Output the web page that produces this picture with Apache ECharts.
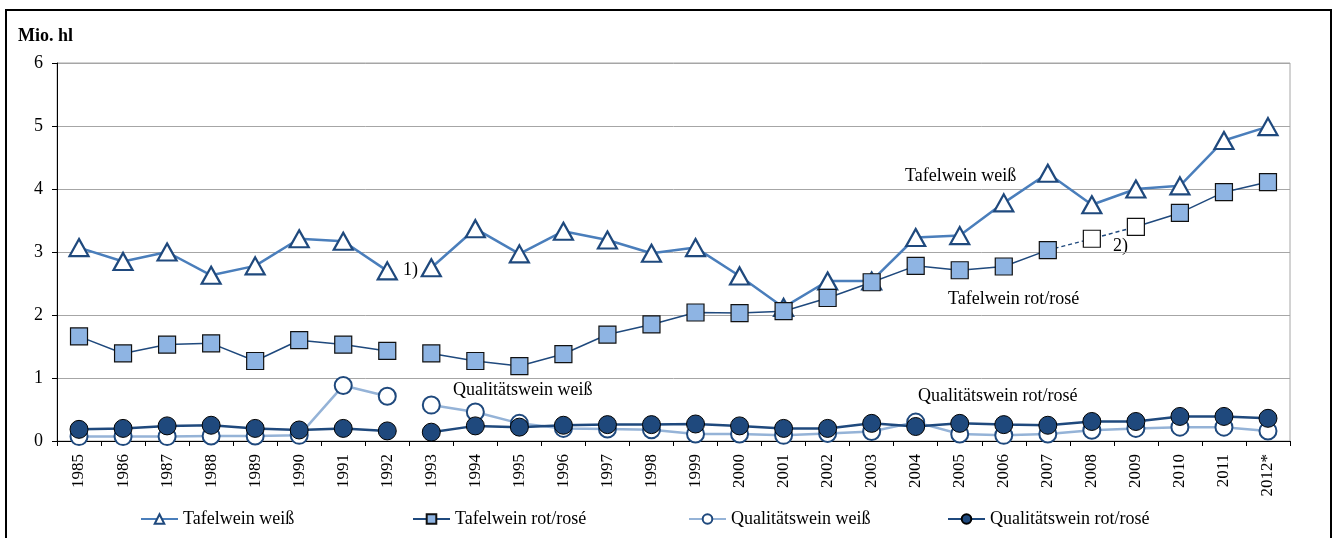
<!DOCTYPE html>
<html><head><meta charset="utf-8">
<script src="https://cdn.jsdelivr.net/npm/echarts@6/dist/echarts.min.js"></script>
<style>html,body{margin:0;padding:0;background:#fff}#c{width:1333px;height:538px}</style>
</head><body><div id="c"></div>
<script>
const years = ['1985','1986','1987','1988','1989','1990','1991','1992','1993','1994','1995','1996','1997','1998','1999','2000','2001','2002','2003','2004','2005','2006','2007','2008','2009','2010','2011','2012*'];
const yMin = 0, yMax = 6, yStep = 1;
const tafelWeiss = [3.07,2.85,3.00,2.63,2.78,3.21,3.17,2.70, 2.75,3.37,2.97,3.33,3.19,2.98,3.07,2.62,2.12,2.54,2.54,3.23,3.26,3.78,4.25,3.75,4.00,4.05,4.77,4.99];
const tafelRot = [1.66,1.39,1.53,1.55,1.27,1.60,1.53,1.43, 1.39,1.27,1.19,1.38,1.69,1.85,2.04,2.03,2.06,2.27,2.52,2.78,2.71,2.77,3.03,3.21,3.40,3.62,3.95,4.11];
const qualWeiss = [0.07,0.07,0.07,0.08,0.08,0.09,0.88,0.71, 0.57,0.46,0.28,0.20,0.19,0.18,0.11,0.11,0.09,0.12,0.15,0.30,0.11,0.09,0.11,0.17,0.20,0.22,0.22,0.16];
const qualRot = [0.185,0.20,0.24,0.25,0.20,0.175,0.20,0.16, 0.14,0.24,0.22,0.25,0.26,0.26,0.27,0.24,0.20,0.20,0.28,0.23,0.28,0.26,0.25,0.31,0.31,0.39,0.39,0.36];
const names = ['Tafelwein weiß','Tafelwein rot/rosé','Qualitätswein weiß','Qualitätswein rot/rosé'];
const breakAfter = 7;          // gap between 1992 and 1993
const estimatedIdx = [23, 24]; // 2008, 2009 (open squares, dashed)

const FONT = '"Liberation Serif","Times New Roman",serif';
function seg(arr, from, to, fn) {
  return arr.map((v, i) => {
    if (i < from || i > to) return null;
    return fn ? fn(v, i) : v;
  });
}

const styles = {
  tw: {symbol:'triangle', symbolSize:[19,17], lineStyle:{color:'#4A7EBB', width:2.5},
       itemStyle:{color:'#fff', borderColor:'#1F497D', borderWidth:2.2}},
  tr: {symbol:'rect', symbolSize:17, lineStyle:{color:'#1F497D', width:1.5},
       itemStyle:{color:'#8EB4E3', borderColor:'#111', borderWidth:1.2}},
  qw: {symbol:'circle', symbolSize:17, lineStyle:{color:'#95B3D7', width:2.5},
       itemStyle:{color:'#fff', borderColor:'#1F497D', borderWidth:2}},
  qr: {symbol:'circle', symbolSize:18, lineStyle:{color:'#1F497D', width:2.5},
       itemStyle:{color:'#1F497D', borderColor:'#000', borderWidth:1}}
};
function mk(name, st, data, extra) {
  return Object.assign({type:'line', name, data, symbol:st.symbol, symbolSize:st.symbolSize,
    showSymbol:true, showAllSymbol:true, connectNulls:false, animation:false,
    lineStyle:st.lineStyle, itemStyle:st.itemStyle, emphasis:{disabled:true}}, extra||{});
}
const N = years.length - 1;
const whiteSq = (v) => ({value:v, itemStyle:{color:'#fff', borderColor:'#111', borderWidth:1.2}});
const series = [
  mk(names[0], styles.tw, seg(tafelWeiss, 0, breakAfter)),
  mk(names[0], styles.tw, seg(tafelWeiss, breakAfter+1, N)),
  mk(names[1], styles.tr, seg(tafelRot, 0, breakAfter)),
  mk(names[1], styles.tr, seg(tafelRot, breakAfter+1, estimatedIdx[0]-1)),
  mk(names[1], styles.tr, seg(tafelRot, estimatedIdx[0]-1, estimatedIdx[1], (v,i) =>
      i === estimatedIdx[0] ? whiteSq(v) : {value:v, symbol:'none'}),
      {lineStyle:{color:'#1F497D', width:1.5, type:[4,3]}}),
  mk(names[1], styles.tr, seg(tafelRot, estimatedIdx[1], N, (v,i) => i === estimatedIdx[1] ? whiteSq(v) : v)),
  mk(names[2], styles.qw, seg(qualWeiss, 0, breakAfter)),
  mk(names[2], styles.qw, seg(qualWeiss, breakAfter+1, N)),
  mk(names[3], styles.qr, seg(qualRot, 0, breakAfter)),
  mk(names[3], styles.qr, seg(qualRot, breakAfter+1, N))
];

const legendLefts = [140, 412, 688, 947];
const legends = names.map((n, i) => ({
  data:[n], left:legendLefts[i], top:510, padding:0, itemWidth:37, itemHeight:12, selectedMode:false,
  textStyle:{fontFamily:FONT, fontSize:18, color:'#000'}
}));

function txt(text, x, y, size, bold) {
  return {type:'text', silent:true, style:{text, x, y, fill:'#000',
    font:(bold?'bold ':'') + size + 'px ' + FONT, verticalAlign:'middle', align:'left'}};
}

const chart = echarts.init(document.getElementById('c'), null, {renderer:'canvas'});
chart.setOption({
  animation:false,
  backgroundColor:'#fff',
  grid:{left:57, right:43, top:63, bottom:97, containLabel:false, outerBoundsMode:'none',
        show:true, borderColor:'#A6A6A6', borderWidth:1},
  xAxis:{type:'category', data:years, boundaryGap:true,
    axisLine:{lineStyle:{color:'#000', width:1}},
    axisTick:{show:true, length:5, lineStyle:{color:'#000'}, interval:0},
    axisLabel:{rotate:90, interval:0, margin:13, fontFamily:FONT, fontSize:17, color:'#000'},
    splitLine:{show:false}},
  yAxis:{type:'value', min:yMin, max:yMax, interval:yStep,
    axisLine:{show:true, lineStyle:{color:'#000', width:1}},
    axisTick:{show:true, length:5, lineStyle:{color:'#000'}},
    axisLabel:{margin:14, fontFamily:FONT, fontSize:18, color:'#000'},
    splitLine:{lineStyle:{color:'#A6A6A6', width:1}}},
  legend:legends,
  series,
  graphic:[
    {type:'rect', silent:true, shape:{x:6, y:10, width:1325, height:540},
     style:{fill:'none', stroke:'#000', lineWidth:2}},
    txt('Mio. hl', 18, 36, 18, true),
    txt('Tafelwein weiß', 905, 176, 18),
    txt('Tafelwein rot/rosé', 948, 299, 18),
    txt('Qualitätswein weiß', 453, 390, 18),
    txt('Qualitätswein rot/rosé', 918, 396, 18),
    txt('1)', 403, 270, 18),
    txt('2)', 1113, 246, 18)
  ]
});
</script></body></html>
